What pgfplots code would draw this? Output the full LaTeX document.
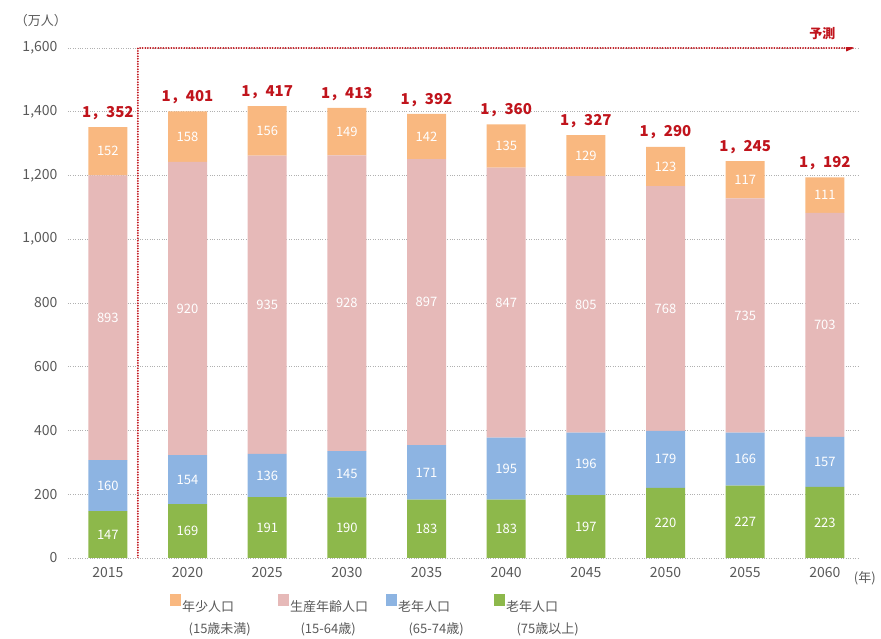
\documentclass[border=0pt]{standalone}
\usepackage{pgfplots}
\usepackage{pgfplotstable}
\pgfplotsset{compat=1.18}
\usetikzlibrary{arrows.meta}
\usepackage{fontspec}
\setmainfont{Noto Sans CJK JP}
\definecolor{cOr}{HTML}{F9B880}
\definecolor{cPk}{HTML}{E6B9B8}
\definecolor{cBl}{HTML}{8DB4E2}
\definecolor{cGr}{HTML}{8DB84B}
\definecolor{cRed}{HTML}{C0141C}
\definecolor{cTx}{HTML}{595959}
\definecolor{cGrid}{HTML}{B0B0B0}

\pgfplotstableread{
x g b w o tot
0 147 160 893 152 1，352
1 169 154 920 158 1，401
2 191 136 935 156 1，417
3 190 145 928 149 1，413
4 183 171 897 142 1，392
5 183 195 847 135 1，360
6 197 196 805 129 1，327
7 220 179 768 123 1，290
8 227 166 735 117 1，245
9 223 157 703 111 1，192
}\data

\pgfplotsset{base/.style={
  scale only axis, width=790.3pt, height=510pt,
  xmin=-0.5, xmax=9.42, ymin=0, ymax=1600,
  at={(0,0)}, anchor=south west}}

\newcommand{\lent}[2]{\makebox[89pt][l]{\begin{tabular}[t]{@{}l@{}}#1\\#2\end{tabular}}}

\begin{document}
\begin{tikzpicture}
\useasboundingbox (-68pt,-81pt) rectangle (813pt,558pt);
\begin{axis}[base,
  ybar stacked, bar width=39pt,
  ymajorgrids, grid style={cGrid, dotted, line width=0.8pt},
  axis line style={draw=none}, major tick length=0pt,
  ytick={0,200,...,1600},
  xtick={0,...,9},
  xticklabels={2015,2020,2025,2030,2035,2040,2045,2050,2055,2060},
  /pgf/number format/assume math mode=true,
  /pgf/number format/1000 sep={,},
  tick label style={font=\fontsize{14}{16}\selectfont, text=cTx},
  yticklabel style={xshift=-7pt},
  xticklabel style={yshift=-6pt},
  reverse legend,
  legend columns=4,
  legend style={draw=none, fill=none, inner sep=0pt,
    at={(axis description cs:0.129,-0.07)}, anchor=north west,
    font=\fontsize{13}{22}\selectfont, text=cTx,
    nodes={inner sep=1pt},
    /tikz/every even column/.append style={column sep=6pt}},
  legend cell align=left,
  legend image code/.code={\fill[#1] (0pt,-1pt) rectangle (11pt,11pt);},
]
\addplot[fill=cGr, draw=none] table[x=x, y=g] {\data};
\addplot[fill=cBl, draw=none] table[x=x, y=b] {\data};
\addplot[fill=cPk, draw=none] table[x=x, y=w] {\data};
\addplot[fill=cOr, draw=none] table[x=x, y=o] {\data};
\addlegendentry{\lent{老年人口}{\hspace{0.8em}(75歳以上)}}
\addlegendentry{\lent{老年人口}{\hspace{0.8em}(65-74歳)}}
\addlegendentry{\lent{生産年齢人口}{\hspace{0.8em}(15-64歳)}}
\addlegendentry{\lent{年少人口}{\hspace{0.5em}(15歳未満)}}
\draw[cRed, line width=2pt, dash pattern=on 0pt off 2.6pt, line cap=round]
  (axis cs:0.377,0) -- (axis cs:0.377,1600) -- (axis cs:9.28,1600);
\fill[cRed] (axis cs:9.28,1600) ++(-1pt,3.5pt) -- ++(8pt,-3.5pt) -- ++(-8pt,-3.5pt) -- cycle;
\end{axis}
\begin{axis}[base, hide axis, clip=false,
  nodes near coords, point meta=explicit symbolic,
  every node near coord/.append style={anchor=center, text=white, font=\fontsize{13}{15}\selectfont}]
\addplot[draw=none, mark=none] table[x=x, y expr=\thisrow{g}/2, meta=g] {\data};
\addplot[draw=none, mark=none] table[x=x, y expr=\thisrow{g}+\thisrow{b}/2, meta=b] {\data};
\addplot[draw=none, mark=none] table[x=x, y expr=\thisrow{g}+\thisrow{b}+\thisrow{w}/2, meta=w] {\data};
\addplot[draw=none, mark=none] table[x=x, y expr=\thisrow{g}+\thisrow{b}+\thisrow{w}+\thisrow{o}/2, meta=o] {\data};
\addplot[draw=none, mark=none,
  every node near coord/.append style={anchor=south, yshift=4pt, text=cRed, font=\bfseries\fontsize{15}{17}\selectfont}]
  table[x=x, y expr=\thisrow{g}+\thisrow{b}+\thisrow{w}+\thisrow{o}, meta=tot] {\data};
\node[text=cTx, font=\fontsize{13}{15}\selectfont] at (rel axis cs:0,1) [xshift=-27pt, yshift=27pt] {（万人）};
\node[text=cTx, font=\fontsize{13}{15}\selectfont, anchor=west] at (axis cs:9.32,0) [yshift=-20pt] {(年)};
\node[text=cRed, font=\bfseries\fontsize{13}{15}\selectfont, anchor=south] at (axis cs:8.97,1600) [yshift=5pt] {予測};
\end{axis}
\end{tikzpicture}
\end{document}
